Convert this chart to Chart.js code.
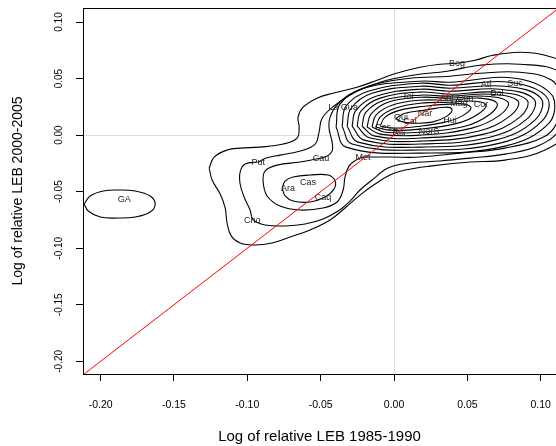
<!DOCTYPE html>
<html>
<head>
<meta charset="utf-8">
<script src="https://cdn.jsdelivr.net/npm/chart.js@4"></script>
<style>
  html, body { margin: 0; padding: 0; background: #fff; }
  #wrap { width: 556px; height: 446px; }
</style>
</head>
<body>
<div id="wrap"><canvas id="lebChart" width="556" height="446"></canvas></div>
<script>
// axis ranges and ticks (log of relative LEB)
const xMin = -0.212, xMax = 0.1104;
const yMin = -0.2112, yMax = 0.1124;
const tickStep = 0.05;

// department labels placed at their (1985-1990, 2000-2005) values
const deptNames = ["GA", "Put", "Cau", "Met", "Cas", "Ara", "Caq", "Cho", "La Gua", "Tol", "Bog", "Atl", "Suc", "Bol",
  "Ant", "Cun", "Mag", "Cor", "Nar", "Hui", "NorS", "Qui", "Cal", "Ces", "Ris"];
const deptX = [-0.1839, -0.0926, -0.0497, -0.0211, -0.0586, -0.0722, -0.0484, -0.0967, -0.0347, 0.0095, 0.0429, 0.0627, 0.0824, 0.0702,
  0.0361, 0.0484, 0.0443, 0.0593, 0.0211, 0.0381, 0.0238, 0.0048, 0.0109, -0.0075, 0.0034];
const deptY = [-0.0565, -0.0238, -0.0203, -0.0194, -0.0415, -0.0468, -0.0556, -0.0759, 0.0247, 0.0344, 0.0635, 0.0450, 0.0459, 0.0371,
  0.0335, 0.0327, 0.0282, 0.0274, 0.0194, 0.0132, 0.0035, 0.0159, 0.0124, 0.0071, 0.0026];

// density contour lines, outermost first
const contourC1 = [[-0.1260,-0.0291],[-0.1240,-0.0397],[-0.1185,-0.0521],[-0.1151,-0.0644],[-0.1138,-0.0777],[-0.1110,-0.0891],
  [-0.1049,-0.0953],[-0.0947,-0.0971],[-0.0831,-0.0953],[-0.0708,-0.0900],[-0.0572,-0.0838],[-0.0436,-0.0750],[-0.0334,-0.0644],
  [-0.0232,-0.0530],[-0.0129,-0.0432],[-0.0027,-0.0353],[0.0075,-0.0309],[0.0245,-0.0274],[0.0518,-0.0238],[0.0756,-0.0221],
  [0.1029,-0.0132],[0.1213,0.0062],[0.1253,0.0362],[0.1185,0.0609],[0.1029,0.0706],[0.0858,0.0733],[0.0674,0.0706],[0.0552,0.0662],
  [0.0429,0.0635],[0.0313,0.0627],[0.0177,0.0600],[-0.0007,0.0538],[-0.0116,0.0485],[-0.0252,0.0424],[-0.0416,0.0371],
  [-0.0525,0.0327],[-0.0620,0.0247],[-0.0654,0.0159],[-0.0647,0.0071],[-0.0661,-0.0026],[-0.0756,-0.0079],[-0.0913,-0.0106],
  [-0.1049,-0.0115],[-0.1138,-0.0132],[-0.1226,-0.0194]];
const contourC2 = [[-0.0926,-0.0238],[-0.1015,-0.0256],[-0.1049,-0.0327],[-0.1049,-0.0432],[-0.1022,-0.0547],[-0.0981,-0.0662],
  [-0.0960,-0.0750],[-0.0879,-0.0794],[-0.0742,-0.0803],[-0.0606,-0.0786],[-0.0484,-0.0741],[-0.0381,-0.0671],[-0.0300,-0.0583],
  [-0.0232,-0.0485],[-0.0150,-0.0397],[-0.0041,-0.0291],[0.0109,-0.0247],[0.0313,-0.0229],[0.0518,-0.0203],[0.0756,-0.0168],
  [0.0995,-0.0088],[0.1144,0.0079],[0.1185,0.0353],[0.1131,0.0556],[0.0858,0.0627],[0.0586,0.0618],[0.0361,0.0565],[0.0129,0.0530],
  [-0.0095,0.0468],[-0.0266,0.0380],[-0.0402,0.0265],[-0.0490,0.0150],[-0.0511,0.0026],[-0.0538,-0.0079],[-0.0640,-0.0141],
  [-0.0777,-0.0177],[-0.0872,-0.0203]];
const contourC3 = [[-0.0211,-0.0194],[-0.0027,-0.0194],[0.0177,-0.0194],[0.0450,-0.0159],[0.0756,-0.0115],[0.1029,-0.0009],
  [0.1117,0.0132],[0.1131,0.0344],[0.1076,0.0485],[0.0858,0.0556],[0.0586,0.0547],[0.0381,0.0521],[0.0109,0.0503],[-0.0129,0.0450],
  [-0.0300,0.0362],[-0.0395,0.0256],[-0.0436,0.0159],[-0.0443,0.0062],[-0.0422,-0.0062],[-0.0422,-0.0141],[-0.0456,-0.0185],
  [-0.0497,-0.0203],[-0.0640,-0.0238],[-0.0797,-0.0265],[-0.0879,-0.0318],[-0.0892,-0.0415],[-0.0865,-0.0538],[-0.0777,-0.0627],
  [-0.0640,-0.0662],[-0.0484,-0.0644],[-0.0388,-0.0591],[-0.0347,-0.0485],[-0.0334,-0.0371],[-0.0307,-0.0274],[-0.0259,-0.0221]];
const contourC4 = [[-0.0395,0.0071],[-0.0368,0.0274],[-0.0204,0.0415],[0.0177,0.0477],[0.0381,0.0468],[0.0824,0.0503],
  [0.1083,0.0344],[0.1056,0.0106],[0.0756,-0.0097],[0.0177,-0.0159],[-0.0327,-0.0106]];
const contourC4Lobe = [[-0.0763,-0.0468],[-0.0742,-0.0406],[-0.0688,-0.0371],[-0.0572,-0.0353],[-0.0450,-0.0353],[-0.0402,-0.0406],
  [-0.0409,-0.0477],[-0.0470,-0.0547],[-0.0572,-0.0591],[-0.0688,-0.0583],[-0.0742,-0.0538]];
const contourC5 = [[-0.0354,0.0079],[-0.0327,0.0256],[-0.0177,0.0388],[0.0177,0.0459],[0.0381,0.0441],[0.0790,0.0468],
  [0.1042,0.0335],[0.1008,0.0124],[0.0722,-0.0071],[0.0177,-0.0132],[-0.0286,-0.0079]];
const contourC6 = [[-0.0320,0.0079],[-0.0293,0.0238],[-0.0150,0.0371],[0.0177,0.0432],[0.0381,0.0415],[0.0756,0.0432],
  [0.1001,0.0327],[0.0960,0.0132],[0.0688,-0.0044],[0.0177,-0.0106],[-0.0245,-0.0062]];
const contourC7 = [[-0.0286,0.0079],[-0.0259,0.0221],[-0.0123,0.0344],[0.0177,0.0406],[0.0381,0.0388],[0.0722,0.0406],
  [0.0954,0.0318],[0.0913,0.0150],[0.0654,-0.0018],[0.0177,-0.0079],[-0.0204,-0.0044]];
const contourC8 = [[-0.0252,0.0079],[-0.0225,0.0212],[-0.0095,0.0327],[0.0177,0.0380],[0.0381,0.0362],[0.0688,0.0380],
  [0.0906,0.0309],[0.0858,0.0159],[0.0613,0.0009],[0.0177,-0.0053],[-0.0163,-0.0026]];
const contourC9 = [[-0.0218,0.0079],[-0.0191,0.0203],[-0.0068,0.0309],[0.0177,0.0353],[0.0381,0.0344],[0.0654,0.0362],
  [0.0845,0.0300],[0.0790,0.0168],[0.0572,0.0035],[0.0177,-0.0026],[-0.0129,-0.0009]];
const contourC10 = [[-0.0184,0.0071],[-0.0157,0.0185],[-0.0041,0.0291],[0.0177,0.0335],[0.0381,0.0327],[0.0620,0.0344],
  [0.0777,0.0291],[0.0722,0.0177],[0.0531,0.0062],[0.0177,0.0],[-0.0095,0.0009]];
const contourC11 = [[-0.0150,0.0071],[-0.0123,0.0177],[-0.0014,0.0265],[0.0177,0.0309],[0.0381,0.0309],[0.0586,0.0327],
  [0.0702,0.0282],[0.0654,0.0185],[0.0484,0.0079],[0.0177,0.0026],[-0.0061,0.0026]];
const contourC12 = [[-0.0123,0.0071],[-0.0095,0.0159],[0.0007,0.0238],[0.0177,0.0282],[0.0381,0.0291],[0.0552,0.0300],
  [0.0627,0.0265],[0.0572,0.0185],[0.0436,0.0106],[0.0177,0.0053],[-0.0027,0.0044]];
const contourC13 = [[-0.0095,0.0079],[-0.0061,0.0159],[0.0041,0.0221],[0.0211,0.0256],[0.0381,0.0274],[0.0484,0.0274],
  [0.0525,0.0238],[0.0463,0.0168],[0.0347,0.0115],[0.0177,0.0079],[0.0007,0.0062]];
const contourC14 = [[0.0014,0.0150],[0.0075,0.0194],[0.0211,0.0221],[0.0347,0.0247],[0.0395,0.0229],[0.0361,0.0168],
  [0.0259,0.0115],[0.0123,0.0106],[0.0041,0.0124]];
const contourGA = [[-0.2112,-0.0609],[-0.2071,-0.0538],[-0.1982,-0.0494],[-0.1880,-0.0485],[-0.1764,-0.0494],[-0.1662,-0.0538],
  [-0.1628,-0.0609],[-0.1662,-0.0680],[-0.1764,-0.0724],[-0.1880,-0.0733],[-0.2003,-0.0724],[-0.2084,-0.0671]];

const contours = [contourC1, contourC2, contourC3, contourC4, contourC4Lobe, contourC5, contourC6, contourC7,
  contourC8, contourC9, contourC10, contourC11, contourC12, contourC13, contourC14, contourGA];

// 45 degree reference line
const diagX = [-0.25, 0.15];

const FONT = "'Liberation Sans', Arial, Helvetica, sans-serif";

// closed loop: repeat the first point
const loop = arr => arr.concat([arr[0]]).map(([x, y]) => ({ x, y }));

const datasets = [{
  label: "y = x",
  data: diagX.map(v => ({ x: v, y: v })),
  showLine: true,
  borderColor: "#ff0000",
  borderWidth: 1,
  pointRadius: 0,
  tension: 0,
  order: 0
}].concat(contours.map((c, i) => ({
  label: "contour " + (i + 1),
  data: loop(c),
  showLine: true,
  borderColor: "#000",
  borderWidth: 1.1,
  pointRadius: 0,
  tension: 0.4,
  order: 1
})));

// text labels go on after the contours, just before the red line
const deptLabels = {
  id: "deptLabels",
  beforeDatasetDraw(chart, args) {
    if (args.index !== 0) return;
    const { ctx, scales: { x, y } } = chart;
    ctx.save();
    ctx.font = "9px " + FONT;
    ctx.fillStyle = "#222";
    ctx.textAlign = "center";
    ctx.textBaseline = "middle";
    deptNames.forEach((n, i) => {
      ctx.fillText(n, x.getPixelForValue(deptX[i]), y.getPixelForValue(deptY[i]));
    });
    ctx.restore();
  }
};

// R draws a full box, Chart.js only gives us left + bottom
const boxTop = {
  id: "boxTop",
  afterDraw(chart) {
    const { ctx, chartArea: a } = chart;
    ctx.save();
    ctx.strokeStyle = "#000";
    ctx.lineWidth = 1;
    ctx.beginPath();
    ctx.moveTo(a.left, a.top + 0.5);
    ctx.lineTo(a.right, a.top + 0.5);
    ctx.stroke();
    ctx.restore();
  }
};

const zeroGrid = ctx => (ctx.tick && Math.abs(ctx.tick.value) < 1e-9) ? "#dcdcdc" : "rgba(0,0,0,0)";

new Chart(document.getElementById("lebChart"), {
  type: "scatter",
  data: { datasets },
  options: {
    responsive: false,
    animation: false,
    devicePixelRatio: 1,
    layout: { padding: { top: 8, right: 0, bottom: 0, left: 0 } },
    plugins: {
      legend: { display: false },
      tooltip: { enabled: false }
    },
    scales: {
      x: {
        type: "linear",
        min: xMin,
        max: xMax,
        ticks: {
          stepSize: tickStep,
          includeBounds: false,
          autoSkip: false,
          maxRotation: 0,
          padding: 18,
          color: "#000",
          font: { family: FONT, size: 10.5 },
          callback: v => v.toFixed(2)
        },
        grid: { color: zeroGrid, tickColor: "#000", tickLength: 7, lineWidth: 1 },
        border: { color: "#000", width: 1 },
        title: {
          display: true,
          text: "Log of relative LEB 1985-1990",
          color: "#000",
          font: { family: FONT, size: 15 },
          padding: { top: 0, bottom: 0 }
        },
        afterFit: s => { s.height = 72; s.paddingLeft = 0; s.paddingRight = 0; }
      },
      y: {
        type: "linear",
        min: yMin,
        max: yMax,
        ticks: {
          stepSize: tickStep,
          includeBounds: false,
          autoSkip: false,
          minRotation: 90,
          maxRotation: 90,
          crossAlign: "center",
          padding: 5,
          color: "#000",
          font: { family: FONT, size: 10 },
          callback: v => v.toFixed(2)
        },
        grid: { color: zeroGrid, tickColor: "#000", tickLength: 7, lineWidth: 1 },
        border: { color: "#000", width: 1 },
        title: {
          display: true,
          text: "Log of relative LEB 2000-2005",
          color: "#000",
          font: { family: FONT, size: 14 },
          padding: { top: 10, bottom: 0 }
        },
        afterFit: s => { s.width = 83; s.paddingTop = 0; s.paddingBottom = 0; }
      }
    }
  },
  plugins: [deptLabels, boxTop]
});
</script>
</body>
</html>
